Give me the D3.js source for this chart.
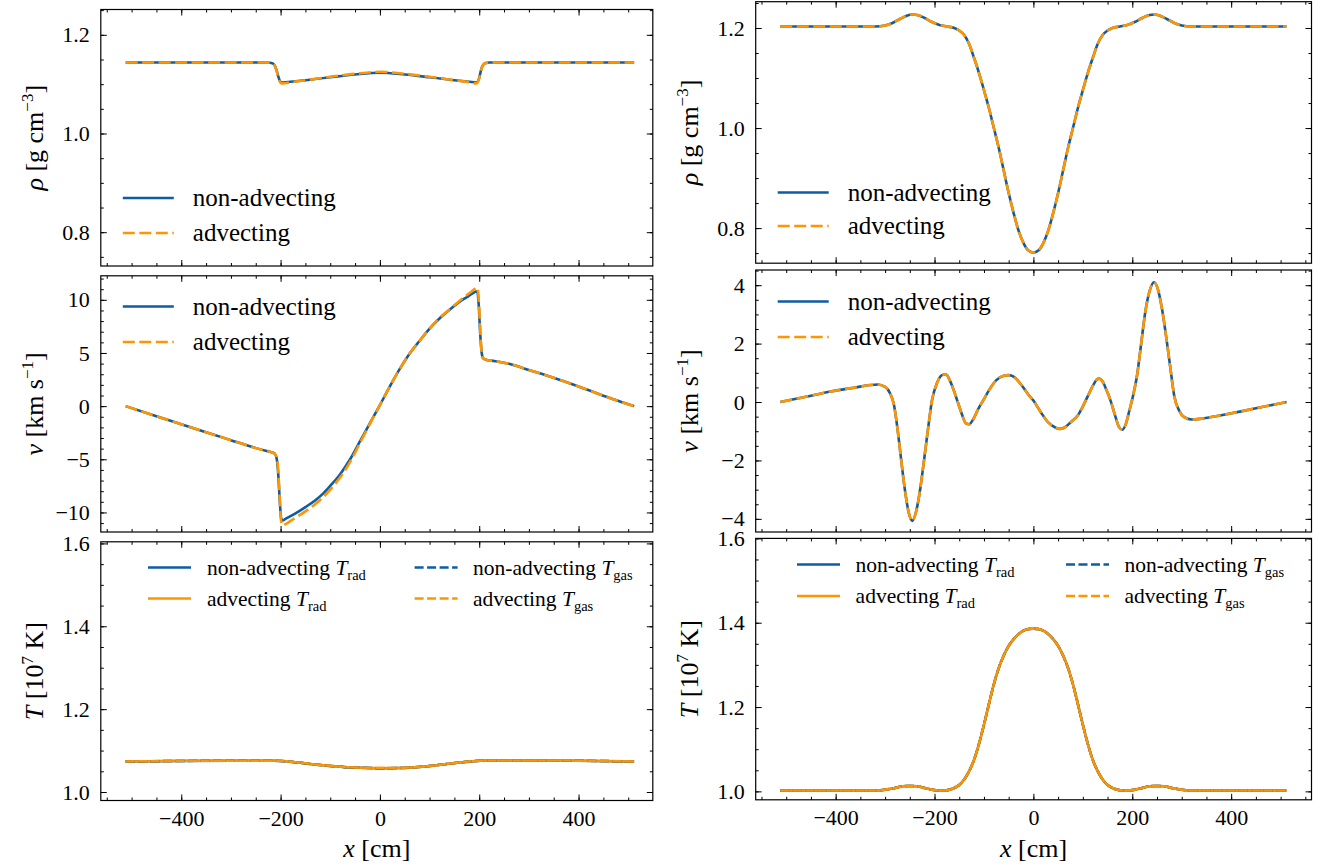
<!DOCTYPE html>
<html><head><meta charset="utf-8">
<script src="https://cdn.jsdelivr.net/npm/d3@7"></script>
<style>body{margin:0;background:#fff} svg{display:block}</style>
</head><body>
<svg id="c" width="1320" height="866"></svg>
<script>
// ---------------- DATA ----------------
const xTicks = [-400, -200, 0, 200, 400];
const rhoTicks = [0.8, 1.0, 1.2];
const vLeftTicks = [-10, -5, 0, 5, 10];
const vRightTicks = [-4, -2, 0, 2, 4];
const tTicks = [1.0, 1.2, 1.4, 1.6];

// left column: density
const rhoLX      = [-512,-400,-300,-240,-222,-216,-212,-208,-205,-202,-199,-196,-180,-150,-100,-50,0,50,100,150,180,194,197,200,203,206,210,214,220,240,300,400,512];
const rhoLNonAdv = [1.144,1.144,1.144,1.144,1.1435,1.142,1.138,1.128,1.117,1.108,1.104,1.1035,1.105,1.108,1.114,1.1195,1.123,1.1195,1.114,1.108,1.105,1.1035,1.105,1.113,1.126,1.136,1.1415,1.143,1.1438,1.144,1.144,1.144,1.144];
const rhoLAdv    = [1.144,1.144,1.144,1.144,1.1435,1.142,1.138,1.127,1.115,1.106,1.102,1.1015,1.104,1.108,1.115,1.121,1.125,1.121,1.115,1.108,1.104,1.1015,1.104,1.112,1.126,1.136,1.1415,1.143,1.1438,1.144,1.144,1.144,1.144];

// left column: velocity
const vLX      = [-512,-450,-400,-350,-300,-260,-230,-218,-212,-208,-205,-202,-199,-196,-190,-180,-165,-150,-130,-115,-100,-80,-60,-40,-20,0,20,40,60,80,100,120,140,160,175,185,192,196,199,202,205,208,215,230,262,300,348,400,434,470,512];
const vLNonAdv = [0,-0.95,-1.7,-2.45,-3.2,-3.8,-4.2,-4.35,-4.45,-4.9,-6.2,-8.6,-10.5,-10.75,-10.6,-10.35,-9.95,-9.5,-8.85,-8.25,-7.5,-6.4,-5.0,-3.3,-1.6,0.1,1.85,3.5,4.95,6.15,7.3,8.25,9.05,9.8,10.25,10.55,10.75,10.8,9.5,6.8,5.0,4.5,4.35,4.25,3.96,3.4,2.69,1.85,1.26,0.65,0];
const vLAdv    = [0,-0.95,-1.7,-2.45,-3.2,-3.8,-4.2,-4.35,-4.45,-4.8,-5.9,-8.4,-10.8,-11.2,-11.1,-10.8,-10.35,-9.9,-9.2,-8.6,-7.85,-6.7,-5.25,-3.45,-1.65,0.1,1.85,3.5,4.95,6.15,7.3,8.3,9.1,9.9,10.45,10.8,11.05,11.15,10.0,7.2,5.0,4.5,4.35,4.25,3.96,3.4,2.69,1.85,1.26,0.65,0];

// left column: temperature (rad and gas coincide)
const tLX      = [-512,-400,-300,-215,-200,-180,-150,-120,-100,-70,-40,0,40,70,100,130,160,190,210,300,400,512];
const tLNonAdv = [1.0735,1.075,1.0755,1.0755,1.075,1.073,1.069,1.065,1.063,1.060,1.0585,1.0575,1.058,1.0595,1.0625,1.067,1.071,1.0745,1.0758,1.0758,1.0755,1.0735];
const tLAdv    = [1.0738,1.0752,1.0757,1.0757,1.0752,1.0732,1.0692,1.0652,1.0632,1.0602,1.0587,1.0577,1.0582,1.0597,1.0627,1.0672,1.0712,1.0747,1.076,1.076,1.0757,1.0738];

// right column: density
const rhoRX      = [-512,-400,-320,-300,-285,-270,-255,-245,-235,-220,-205,-190,-175,-160,-150,-140,-130,-120,-110,-100,-90,-80,-70,-60,-50,-40,-30,-20,-10,0,10,20,30,40,50,60,70,80,90,100,110,120,130,140,150,160,175,190,205,220,235,245,255,270,285,300,320,400,512];
const rhoRNonAdv = [1.203,1.203,1.203,1.205,1.21,1.218,1.225,1.227,1.226,1.22,1.212,1.206,1.203,1.2,1.195,1.186,1.168,1.14,1.11,1.076,1.04,1.0,0.96,0.915,0.87,0.83,0.795,0.77,0.755,0.751,0.755,0.77,0.795,0.83,0.87,0.915,0.96,1.0,1.04,1.076,1.11,1.14,1.168,1.186,1.195,1.2,1.203,1.206,1.212,1.22,1.226,1.227,1.225,1.218,1.21,1.205,1.203,1.203,1.203];
const rhoRAdv    = [1.203,1.203,1.203,1.205,1.21,1.218,1.225,1.227,1.226,1.22,1.212,1.206,1.203,1.2,1.195,1.186,1.168,1.14,1.11,1.076,1.04,1.0,0.96,0.915,0.87,0.83,0.795,0.77,0.755,0.751,0.755,0.77,0.795,0.83,0.87,0.915,0.96,1.0,1.04,1.076,1.11,1.14,1.168,1.186,1.195,1.2,1.203,1.206,1.212,1.22,1.226,1.227,1.225,1.218,1.21,1.205,1.203,1.203,1.203];

// right column: velocity
const vRX      = [-512,-460,-410,-360,-330,-315,-300,-290,-282,-275,-268,-260,-252,-245,-238,-230,-222,-213,-205,-195,-185,-177,-168,-160,-153,-145,-137,-130,-122,-112,-101,-90,-75,-60,-50,-40,-25,-10,0,15,30,45,53,62,75,90,100,110,120,128,133,140,148,156,165,173,180,187,194,200,210,218,226,235,244,252,260,268,276,285,295,305,320,340,380,420,460,512];
const vRNonAdv = [0,0.18,0.36,0.5,0.58,0.6,0.52,0.3,-0.1,-0.9,-1.9,-3.0,-3.8,-4.07,-3.8,-3.1,-2.1,-0.9,0.07,0.65,0.92,0.95,0.7,0.35,0.0,-0.4,-0.72,-0.76,-0.6,-0.25,0.07,0.4,0.75,0.9,0.92,0.87,0.6,0.25,0.05,-0.35,-0.7,-0.88,-0.92,-0.88,-0.7,-0.45,-0.15,0.2,0.55,0.76,0.8,0.7,0.4,0.05,-0.45,-0.85,-0.95,-0.75,-0.3,0.1,0.95,2.0,3.05,3.8,4.1,3.85,3.2,2.3,1.3,0.2,-0.3,-0.52,-0.6,-0.57,-0.45,-0.32,-0.18,0];
const vRAdv    = [0,0.18,0.36,0.5,0.58,0.6,0.52,0.3,-0.1,-0.9,-1.9,-3.0,-3.8,-4.07,-3.8,-3.1,-2.1,-0.9,0.07,0.65,0.92,0.95,0.7,0.35,0.0,-0.4,-0.72,-0.76,-0.6,-0.25,0.07,0.4,0.75,0.9,0.92,0.87,0.6,0.25,0.05,-0.35,-0.7,-0.88,-0.92,-0.88,-0.7,-0.45,-0.15,0.2,0.55,0.76,0.8,0.7,0.4,0.05,-0.45,-0.85,-0.95,-0.75,-0.3,0.1,0.95,2.0,3.05,3.8,4.1,3.85,3.2,2.3,1.3,0.2,-0.3,-0.52,-0.6,-0.57,-0.45,-0.32,-0.18,0];

// right column: temperature (rad and gas coincide)
const tRX      = [-512,-320,-300,-280,-265,-250,-235,-220,-205,-190,-180,-170,-160,-150,-140,-130,-120,-110,-100,-90,-80,-70,-60,-50,-40,-30,-20,-10,0,10,20,30,40,50,60,70,80,90,100,110,120,130,140,150,160,170,180,190,205,220,235,250,265,280,300,320,512];
const tRNonAdv = [1.002,1.002,1.004,1.008,1.012,1.013,1.012,1.008,1.004,1.002,1.002,1.004,1.008,1.015,1.028,1.048,1.075,1.113,1.158,1.207,1.254,1.293,1.322,1.345,1.361,1.373,1.381,1.385,1.386,1.385,1.381,1.373,1.361,1.345,1.322,1.293,1.254,1.207,1.158,1.113,1.075,1.048,1.028,1.015,1.008,1.004,1.002,1.002,1.004,1.008,1.012,1.013,1.012,1.008,1.004,1.002,1.002];
const tRAdv    = [1.002,1.002,1.004,1.008,1.012,1.013,1.012,1.008,1.004,1.002,1.002,1.004,1.008,1.015,1.028,1.048,1.075,1.113,1.158,1.207,1.254,1.293,1.322,1.345,1.361,1.373,1.381,1.385,1.386,1.385,1.381,1.373,1.361,1.345,1.322,1.293,1.254,1.207,1.158,1.113,1.075,1.048,1.028,1.015,1.008,1.004,1.002,1.002,1.004,1.008,1.012,1.013,1.012,1.008,1.004,1.002,1.002];

// ---------------- STYLE / LAYOUT ----------------
const BLUE = '#0C5DA5', ORANGE = '#FF9500';
const FONT = "'Liberation Serif','DejaVu Serif',serif";
const svg = d3.select('#c');

const colL = {x0: 100.8, x1: 652.8, xDom: [-562, 549.5], labX: 43};
const colR = {x0: 755.7, x1: 1311.5, xDom: [-561.7, 562.5], labX: 698};

function rng(a, b, s) { const out = []; for (let k = Math.ceil(a / s - 1e-9); k * s <= b + 1e-9; k++) out.push(+(k * s).toFixed(6)); return out; }
const fmtNum = d => { let s = Number.isInteger(d) ? String(Math.abs(d)) : Math.abs(d).toFixed(1); return (d < 0 ? '\u2212' : '') + s; };

const panels = [
  {col: colL, y0: 9.5, y1: 266, yDom: [0.7315, 1.2513], yT: rhoTicks, yMin: 0.05, kind: 'rho', X: rhoLX, A: rhoLNonAdv, B: rhoLAdv, fmt: d => d.toFixed(1), leg: [198, 233]},
  {col: colL, y0: 275.8, y1: 532, yDom: [-11.84, 12.26], yT: vLeftTicks, yMin: 1, kind: 'v', X: vLX, A: vLNonAdv, B: vLAdv, fmt: fmtNum, leg: [306.5, 342]},
  {col: colL, y0: 541.8, y1: 800.5, yDom: [0.9795, 1.6039], yT: tTicks, yMin: 0.05, kind: 'T', X: tLX, A: tLNonAdv, B: tLAdv, fmt: d => d.toFixed(1), leg: [567.5, 598.5], legX: [148, 207, 414.6, 473], showX: true},
  {col: colR, y0: 1.7, y1: 263.2, yDom: [0.7298, 1.2526], yT: rhoTicks, yMin: 0.05, kind: 'rho', X: rhoRX, A: rhoRNonAdv, B: rhoRAdv, fmt: d => d.toFixed(1), leg: [192.5, 226]},
  {col: colR, y0: 270, y1: 532, yDom: [-4.45, 4.52], yT: vRightTicks, yMin: 0.5, kind: 'v', X: vRX, A: vRNonAdv, B: vRAdv, fmt: fmtNum, leg: [301.5, 337]},
  {col: colR, y0: 538.4, y1: 799.8, yDom: [0.98, 1.6], yT: tTicks, yMin: 0.05, kind: 'T', X: tRX, A: tRNonAdv, B: tRAdv, fmt: d => d.toFixed(1), leg: [564.5, 596], legX: [797, 855.6, 1066, 1124.4], showX: true},
];

panels.forEach((p, i) => {
  const c = p.col;
  const xs = d3.scaleLinear().domain(c.xDom).range([c.x0, c.x1]);
  const ys = d3.scaleLinear().domain(p.yDom).range([p.y1, p.y0]);
  const g = svg.append('g');
  const cid = 'clip' + i;
  svg.append('clipPath').attr('id', cid).append('rect')
    .attr('x', c.x0).attr('y', p.y0).attr('width', c.x1 - c.x0).attr('height', p.y1 - p.y0);

  const line = arr => d3.line().x((d, j) => xs(p.X[j])).y(d => ys(d)).curve(d3.curveMonotoneX)(arr);
  const lg = g.append('g').attr('clip-path', `url(#${cid})`).attr('fill', 'none');
  if (p.kind === 'T') {
    lg.append('path').attr('d', line(p.A)).attr('stroke', BLUE).attr('stroke-width', 2.5);
    lg.append('path').attr('d', line(p.B)).attr('stroke', ORANGE).attr('stroke-width', 2.5);
    lg.append('path').attr('d', line(p.A)).attr('stroke', BLUE).attr('stroke-width', 2.5).attr('stroke-dasharray', '9,3.5');
    lg.append('path').attr('d', line(p.B)).attr('stroke', ORANGE).attr('stroke-width', 2.5).attr('stroke-dasharray', '9,3.5');
  } else {
    lg.append('path').attr('d', line(p.A)).attr('stroke', BLUE).attr('stroke-width', 2.6);
    lg.append('path').attr('d', line(p.B)).attr('stroke', ORANGE).attr('stroke-width', 2.6).attr('stroke-dasharray', '12,4.5');
  }

  // axes with inward ticks on all sides
  const xMinor = rng(c.xDom[0], c.xDom[1], 50);
  const yMinor = rng(p.yDom[0], p.yDom[1], p.yMin);
  const style = sel => { sel.select('.domain').remove(); sel.attr('font-family', FONT).attr('font-size', 22).selectAll('line').attr('stroke-width', 1); sel.selectAll('text').attr('fill', '#000'); };
  g.append('g').attr('transform', `translate(0,${p.y1})`).call(d3.axisBottom(xs).tickValues(xMinor).tickSize(-3).tickFormat('')).call(style);
  g.append('g').attr('transform', `translate(0,${p.y1})`).call(d3.axisBottom(xs).tickValues(xTicks).tickSize(-6).tickPadding(10).tickFormat(p.showX ? fmtNum : '')).call(style);
  g.append('g').attr('transform', `translate(0,${p.y0})`).call(d3.axisTop(xs).tickValues(xMinor).tickSize(-3).tickFormat('')).call(style);
  g.append('g').attr('transform', `translate(0,${p.y0})`).call(d3.axisTop(xs).tickValues(xTicks).tickSize(-6).tickFormat('')).call(style);
  g.append('g').attr('transform', `translate(${c.x0},0)`).call(d3.axisLeft(ys).tickValues(yMinor).tickSize(-3).tickFormat('')).call(style);
  g.append('g').attr('transform', `translate(${c.x0},0)`).call(d3.axisLeft(ys).tickValues(p.yT).tickSize(-6).tickPadding(11).tickFormat(p.fmt)).call(style);
  g.append('g').attr('transform', `translate(${c.x1},0)`).call(d3.axisRight(ys).tickValues(yMinor).tickSize(-3).tickFormat('')).call(style);
  g.append('g').attr('transform', `translate(${c.x1},0)`).call(d3.axisRight(ys).tickValues(p.yT).tickSize(-6).tickFormat('')).call(style);

  g.append('rect').attr('x', c.x0).attr('y', p.y0).attr('width', c.x1 - c.x0).attr('height', p.y1 - p.y0)
    .attr('fill', 'none').attr('stroke', '#000').attr('stroke-width', 1.2);

  // y label
  const cy = (p.y0 + p.y1) / 2;
  const yl = g.append('text').attr('transform', `translate(${c.labX},${cy}) rotate(-90)`).attr('text-anchor', 'middle')
    .attr('font-family', FONT).attr('font-size', 26).attr('fill', '#000');
  if (p.kind === 'rho') {
    yl.append('tspan').attr('font-style', 'italic').text('\u03C1');
    yl.append('tspan').text(' [g cm');
    yl.append('tspan').attr('font-size', 17).attr('dy', -10).text('\u22123');
    yl.append('tspan').attr('dy', 10).text(']');
  } else if (p.kind === 'v') {
    yl.append('tspan').attr('font-style', 'italic').text('v');
    yl.append('tspan').text(' [km s');
    yl.append('tspan').attr('font-size', 17).attr('dy', -10).text('\u22121');
    yl.append('tspan').attr('dy', 10).text(']');
  } else {
    yl.append('tspan').attr('font-style', 'italic').text('T');
    yl.append('tspan').text(' [10');
    yl.append('tspan').attr('font-size', 17).attr('dy', -10).text('7');
    yl.append('tspan').attr('dy', 10).text(' K]');
  }

  // x label
  if (p.showX) {
    const xl = g.append('text').attr('x', (c.x0 + c.x1) / 2).attr('y', 857).attr('text-anchor', 'middle')
      .attr('font-family', FONT).attr('font-size', 26).attr('fill', '#000');
    xl.append('tspan').attr('font-style', 'italic').text('x');
    xl.append('tspan').text(' [cm]');
  }

  // legend
  const L = g.append('g').attr('font-family', FONT).attr('fill', '#000');
  if (p.kind !== 'T') {
    const hx0 = c.x0 + 22, hx1 = c.x0 + 73, tx = c.x0 + 92;
    L.append('line').attr('x1', hx0).attr('x2', hx1).attr('y1', p.leg[0]).attr('y2', p.leg[0]).attr('stroke', BLUE).attr('stroke-width', 2.6);
    L.append('line').attr('x1', hx0).attr('x2', hx1).attr('y1', p.leg[1]).attr('y2', p.leg[1]).attr('stroke', ORANGE).attr('stroke-width', 2.6).attr('stroke-dasharray', '12,4.5');
    L.append('text').attr('x', tx).attr('y', p.leg[0]).attr('dy', '0.33em').attr('font-size', 25).text('non-advecting');
    L.append('text').attr('x', tx).attr('y', p.leg[1]).attr('dy', '0.33em').attr('font-size', 25).text('advecting');
  } else {
    const ent = [
      {hx: p.legX[0], tx: p.legX[1], y: p.leg[0], col: BLUE, dash: null, a: 'non-advecting ', s: 'rad'},
      {hx: p.legX[0], tx: p.legX[1], y: p.leg[1], col: ORANGE, dash: null, a: 'advecting ', s: 'rad'},
      {hx: p.legX[2], tx: p.legX[3], y: p.leg[0], col: BLUE, dash: '9,3.5', a: 'non-advecting ', s: 'gas'},
      {hx: p.legX[2], tx: p.legX[3], y: p.leg[1], col: ORANGE, dash: '9,3.5', a: 'advecting ', s: 'gas'},
    ];
    ent.forEach(e => {
      const ln = L.append('line').attr('x1', e.hx).attr('x2', e.hx + 43).attr('y1', e.y).attr('y2', e.y).attr('stroke', e.col).attr('stroke-width', 2.5);
      if (e.dash) ln.attr('stroke-dasharray', e.dash);
      const t = L.append('text').attr('x', e.tx).attr('y', e.y).attr('dy', '0.33em').attr('font-size', 21.5);
      t.append('tspan').text(e.a);
      t.append('tspan').attr('font-style', 'italic').text('T');
      t.append('tspan').attr('font-size', 14.5).attr('dy', 5).text(e.s);
    });
  }
});
</script></body></html>
